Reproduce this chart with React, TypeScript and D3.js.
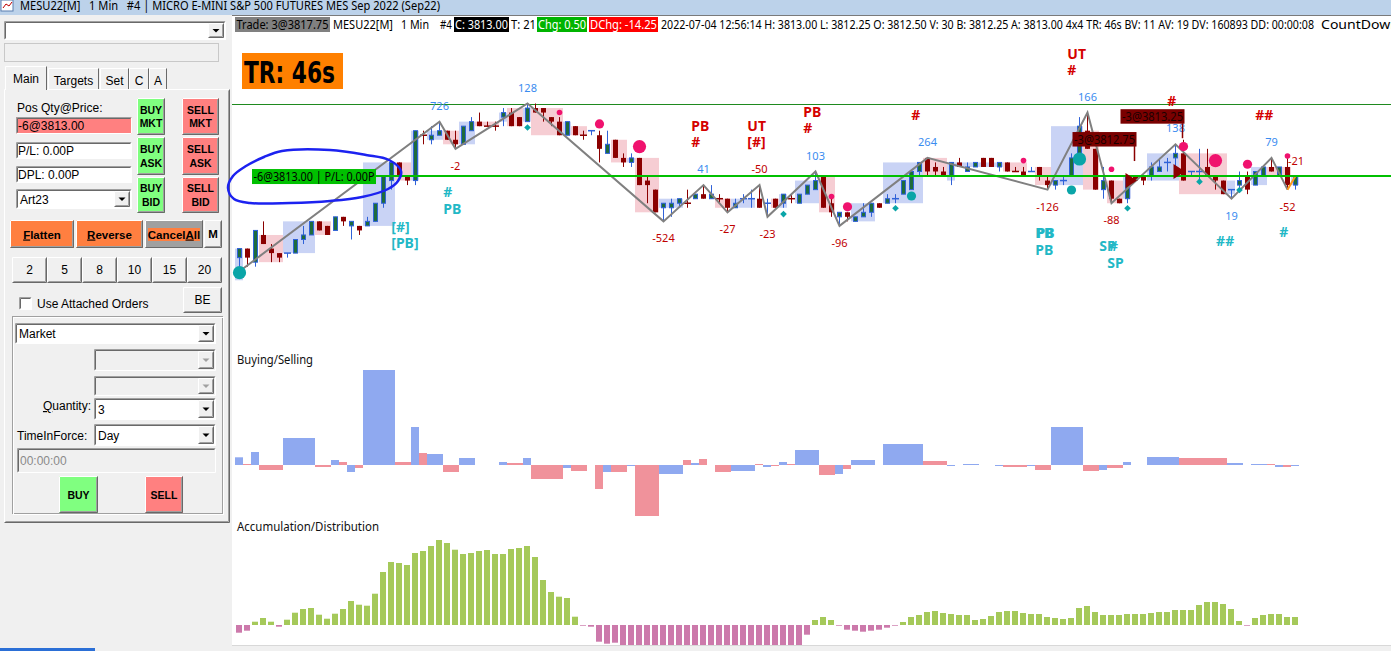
import React from "react";
import * as d3 from "d3";

// one-minute bars, MESU22
const open = [
  3808.5, 3809, 3808.25, 3809.75, 3809, 3808.75, 3808.75, 3808.75, 3809.5, 3809.75,
  3810.5, 3810.25, 3810, 3810.75, 3810.25, 3810.25, 3810.25, 3810.5, 3811.5, 3812.75,
  3813.75, 3813, 3812.75, 3815.25, 3815, 3815.25, 3815.5, 3815, 3814.75, 3815.5,
  3816, 3815.75, 3815.75, 3816.25, 3816.5, 3816.25, 3816, 3816.75, 3816.75, 3816.25,
  3816, 3815.25, 3815.75, 3815.25, 3815.5, 3815.25, 3814.25, 3815, 3814, 3813.75,
  3814, 3812.75, 3812.25, 3811.25, 3811.25, 3811.5, 3811.5, 3811.75, 3812, 3811.75,
  3811.75, 3811.75, 3811.25, 3811.75, 3811.75, 3811.75, 3811.5, 3811.75, 3811.5, 3811.75,
  3811.5, 3812, 3812.25, 3813, 3811.5, 3810.75, 3811, 3810.5, 3810.75, 3811,
  3811.5, 3811.5, 3811.75, 3812, 3812.25, 3813.25, 3814, 3813.5, 3813.25, 3813,
  3813.75, 3813.25, 3813.5, 3814, 3814, 3813.5, 3813.75, 3813.25, 3813.25, 3813.25,
  3813.5, 3812.75, 3812.5, 3812.75, 3813, 3814.25, 3815.5, 3814.5, 3812.25, 3812.75,
  3811.75, 3811.75, 3813, 3813, 3813, 3813.25, 3813.75, 3814, 3814.25, 3813.25,
  3813.25, 3813.5, 3813, 3812.75, 3812.25, 3812.5, 3813, 3812.5, 3813, 3813.5,
  3813, 3813.5, 3812.5,
];
const high = [
  3809, 3809, 3810, 3810.5, 3809.25, 3808.75, 3808.75, 3809.5, 3810.25, 3810.5,
  3810.5, 3810.25, 3810.75, 3810.75, 3810.5, 3810.25, 3810.75, 3811.5, 3813, 3813.75,
  3813.75, 3813, 3815.5, 3815.5, 3815.75, 3816, 3815.5, 3815.5, 3815.75, 3816.25,
  3816.5, 3816, 3816, 3816.75, 3816.75, 3816.25, 3817, 3817, 3816.75, 3816.25,
  3816.25, 3816, 3815.75, 3815.5, 3815.5, 3815.5, 3815.5, 3815, 3814.25, 3814.25,
  3814, 3813, 3812.25, 3811.5, 3811.75, 3811.75, 3812.25, 3812, 3812.5, 3812.5,
  3812, 3811.75, 3811.75, 3812, 3812.25, 3812.5, 3811.75, 3811.75, 3812, 3812,
  3812, 3812.5, 3813.25, 3813, 3812, 3811, 3811, 3810.75, 3811.5, 3811.5,
  3811.5, 3812, 3812, 3812.75, 3813.25, 3813.75, 3814, 3813.75, 3813.5, 3813.75,
  3814, 3813.75, 3813.75, 3814, 3814, 3813.75, 3813.75, 3813.5, 3813.5, 3813.5,
  3813.5, 3813, 3812.75, 3813, 3814.25, 3816.25, 3816.5, 3814.5, 3813.5, 3812.75,
  3811.75, 3813, 3813, 3813, 3813.75, 3814, 3814, 3814.75, 3815, 3813.25,
  3814.5, 3814.5, 3813, 3812.75, 3812.25, 3813.25, 3813.25, 3813.25, 3813.5, 3814,
  3813.5, 3814, 3813,
];
const low = [
  3807.75, 3808, 3808, 3809.25, 3808.25, 3808.25, 3808.5, 3808.75, 3809.25, 3809.75,
  3810, 3809.75, 3810, 3810.25, 3809.5, 3809.75, 3810.25, 3810.5, 3811.25, 3812.25,
  3813, 3812.5, 3812.5, 3814.75, 3814.75, 3815.25, 3815, 3814.5, 3814.75, 3815.5,
  3815.75, 3815.75, 3815.5, 3815.75, 3815.75, 3815.75, 3816, 3816.5, 3816, 3815.75,
  3815.25, 3815.25, 3815.25, 3815, 3815.25, 3813.75, 3814.25, 3814, 3813.5, 3813.5,
  3812.5, 3811.5, 3811, 3810.5, 3810.75, 3811.25, 3811.25, 3811.75, 3811.75, 3811.75,
  3811.5, 3811, 3811.25, 3811.5, 3811.25, 3811.25, 3810.75, 3811.25, 3811.25, 3811.5,
  3811.5, 3812, 3812.25, 3811.25, 3810.75, 3810.25, 3810.5, 3810.5, 3810.75, 3810.75,
  3811.25, 3811.5, 3811.5, 3812, 3812.25, 3813, 3813, 3813, 3813, 3812.5,
  3813.5, 3813.25, 3813.5, 3813.5, 3813.5, 3813.25, 3813.25, 3813.25, 3813, 3813.25,
  3812.75, 3812.25, 3812.25, 3812.5, 3813, 3814.25, 3814.5, 3812.25, 3811.75, 3811.5,
  3811.5, 3811.5, 3812.75, 3812.5, 3812.75, 3813.25, 3813.25, 3813.25, 3812.75, 3813,
  3812.75, 3813, 3812.25, 3812, 3811.75, 3812.25, 3812, 3812.5, 3813, 3813.25,
  3813, 3812.25, 3812.25,
];
const close = [
  3809, 3808.5, 3810, 3809.25, 3808.75, 3808.5, 3808.75, 3809.5, 3809.75, 3810.5,
  3810, 3809.75, 3810.75, 3810.5, 3810.5, 3810, 3810.5, 3811.5, 3813, 3813.75,
  3813, 3812.75, 3815.5, 3815.25, 3815.25, 3815.5, 3815, 3814.75, 3815.75, 3816,
  3815.75, 3815.75, 3815.75, 3816.5, 3815.75, 3815.75, 3816.75, 3816.5, 3816.5, 3816,
  3815.25, 3816, 3815.25, 3815.25, 3815.5, 3814.5, 3814.75, 3814, 3813.75, 3814,
  3812.5, 3812.5, 3811, 3811.5, 3811.5, 3811.75, 3811.5, 3812, 3811.75, 3812,
  3811.75, 3811.25, 3811.5, 3811.75, 3811.75, 3811.25, 3811.5, 3811.25, 3812, 3811.75,
  3812, 3812.5, 3812.75, 3811.25, 3811, 3811, 3810.75, 3810.75, 3811, 3811.5,
  3811.25, 3811.75, 3811.75, 3812.75, 3813.25, 3813.75, 3813.25, 3813.25, 3813, 3813.75,
  3813.5, 3813.5, 3813.75, 3813.5, 3813.5, 3813.75, 3813.25, 3813.25, 3813, 3813.25,
  3813, 3812.5, 3812.75, 3812.75, 3814, 3815.75, 3814.5, 3812.25, 3812.75, 3811.75,
  3811.5, 3813, 3812.75, 3812.75, 3813.5, 3813.5, 3813.75, 3814.25, 3812.75, 3813.25,
  3813.25, 3813, 3812.75, 3812, 3812.25, 3812.75, 3812.25, 3813.25, 3813.5, 3813.25,
  3813.5, 3812.5, 3813,
];

// zigzag swings (first pivot is a low, then alternating)
const pivotBars = [0, 25, 27, 36, 53, 58, 61, 65, 66, 72, 75, 86, 101, 106, 109, 117, 124, 129, 131];
const pivotLabels = [null, 726, -2, 128, -524, 41, -27, -50, -23, 103, -96, 264, -126, 166, -88, 138, 19, 79, -52];
const lastLegLabel = -21;

// congestion boxes
const zoneFrom = [0, 3, 6, 10, 16, 20, 22, 24, 26, 28, 30, 33, 34, 36, 37, 41, 42, 47, 49, 50, 53, 60, 62, 67, 68, 70, 73, 77, 81, 86, 89, 90, 96, 100, 102, 106, 109, 111, 114, 118, 124, 127, 129, 132];
const zoneTo = [0, 5, 9, 11, 19, 21, 22, 25, 27, 29, 32, 33, 35, 36, 40, 41, 43, 48, 49, 52, 55, 61, 64, 67, 68, 72, 74, 79, 85, 88, 89, 95, 98, 101, 105, 107, 110, 111, 117, 123, 124, 128, 131, 132];
const zoneTop = [3809, 3809.75, 3810.5, 3810.5, 3813.75, 3813.75, 3815.5, 3815.5, 3815.5, 3816, 3816, 3816.5, 3816.75, 3816.75, 3816.75, 3816, 3815.75, 3815, 3814, 3814, 3811.75, 3811.75, 3811.75, 3811.75, 3812, 3812.75, 3813, 3811.5, 3813.75, 3814, 3813.75, 3813.75, 3813.75, 3813.5, 3815.75, 3815.5, 3812.75, 3813, 3814.25, 3814.25, 3812.75, 3813.5, 3813.5, 3813];
const zoneBottom = [3807.25, 3808.25, 3808.75, 3809.75, 3810.25, 3812.75, 3812.75, 3815, 3814.75, 3814.75, 3815.75, 3816, 3815.75, 3816, 3815.25, 3815.25, 3815.25, 3813.75, 3813.75, 3811, 3811.25, 3811.25, 3811.25, 3811.25, 3811.25, 3811.5, 3811, 3810.5, 3811.5, 3813, 3812.75, 3813.5, 3813.25, 3812.5, 3812.5, 3812.25, 3811.5, 3811.75, 3812.75, 3812, 3812, 3812.5, 3813, 3812.5];
const zoneSide = "BPBPBPBBPBPBPBPBPPBPBPBPBBPBBPBBPPBPPBBPBBPB";

// signal dots
const pinkBars = [40, 45, 50, 74, 76, 98, 109, 118, 122, 126, 131];
const pinkPrices = [3816.5, 3815.875, 3814.625, 3811.875, 3811.3, 3813.85, 3813.375, 3814.625, 3813.85, 3813.65, 3814.1];
const pinkSizes = "smlsmssmlms";
const tealBars = [0, 36, 68, 82, 84, 104, 105, 111, 120, 125];
const tealPrices = [3807.67, 3815.68, 3810.9, 3811.22, 3811.9, 3812.23, 3813.94, 3811.22, 3812.69, 3812.23];
const tealSizes = "lsssmmlsss";

// pattern tags
const tagBars = [57, 57, 64, 64, 71, 71, 84.5, 104, 104, 116.5, 127.5, 26, 26, 19.5, 19.5, 100, 100.15, 100, 108, 109.2, 109, 122.6, 130.5];
const tagPrices = [3815.48, 3814.6, 3815.48, 3814.6, 3816.25, 3815.37, 3816.09, 3819.45, 3818.57, 3816.86, 3816.09, 3811.84, 3810.9, 3809.93, 3809.03, 3809.6, 3809.6, 3808.64, 3808.86, 3808.86, 3807.93, 3809.14, 3809.64];
const tagTexts = ["PB", "#", "UT", "[#]", "PB", "#", "#", "UT", "#", "#", "##", "#", "PB", "[#]", "[PB]", "PB", "PB", "PB", "SP", "#", "SP", "##", "#"];
const tagSides = "RRRRRRRRRRRTTTTTTTTTTTT";

// fills
const fillBars = [112, 118];
const fillPrices = [3812.75, 3813.25];
const fillQty = [-3, -3];
const fillLabelPrices = [3815.04, 3816.3];

const posQty = -6;
const posPrice = 3813.0;
const levelPrice = 3817.0;

// Buying/Selling
const buySell = [
  7.7, 1, 13, -5, -5, -5, 27, 27, 27, 27,
  -2, -2, 5, 3, -7, -3, 95, 95, 95, 95,
  3, 3, 38, 12, 11, 11, -7, -7, 7, 7,
  0, 0, 0, 3, 2, 2, 7, -14, -14, -14,
  -14, -3, -6, -6, 0, -24, -7, -7, -7, -1,
  -51, -51, -51, -9, -9, -9, 5, 2, 6, 0,
  -7, -7, -6, -6, -6, 1, -2, -1, 3, 1,
  15, 15, 15, -10, -10, -9, -4, 5, 5, 5,
  0, 21, 21, 21, 21, 21, 4, 4, 4, -1,
  0, 1, 1, 0, 0, -1, -2, -2, -2, -1,
  -5, -5, 38, 38, 38, 38, -6, -6, -5, -3,
  -3, 3, 0, 0, 8, 8, 8, 8, 7, 7,
  7, 7, 7, 7, 2, 2, 0, 1, 1, 1,
  -2, -2, -1,
];
const buySellSide =
  "BSBSSSBBBB" + "SSBSBSBBBB" + "SSBSBBSSBB" + "BBBBSSBSSS" + "SBSSSSBSSB" +
  "SSSBBBSBSS" + "SSBBBSBSBS" + "BBBSSBSBBB" + "BBBBBBSSSB" + "BBBBBBSSSB" +
  "SSBBBBSSBS" + "SBBBBBBBSS" + "SSSSBBBBBS" + "BSB";

// Accumulation/Distribution
const accDist = [
  -7.7, -5.7, 3.3, 7, 3.3, -1.7, 5.3, 12.3, 16, 17,
  10.3, 6.3, 11.3, 16, 24, 20.3, 19.3, 31.3, 53, 63,
  62, 60, 72, 74, 79, 85, 82, 75.3, 71, 72,
  74, 75, 71, 71, 76, 77, 79, 68, 45, 33,
  28.3, 27, 8.3, -0.7, -1.7, -16.7, -18.7, -17.7, -24, -24,
  -24, -24, -24, -24, -24, -24, -24, -24, -24, -24,
  -24, -24, -24, -24, -24, -24, -24, -24, -24, -24,
  -24, -9.7, 5, 8, 5, -0.7, -4.7, -5.7, -6.7, -5.7,
  -4.7, -2.7, -0.7, 3, 8, 10, 13, 14, 12, 11,
  10, 10, 5, 6, 9, 13, 14, 14, 12, 11,
  11, 8, 7, 6, 7, 17, 19, 13, 10, 10,
  10, 11, 11, 11, 12, 13, 13, 15, 15, 15,
  20, 23, 23, 21, 16, 4, -0.7, 7, 10, 11,
  11, 8, 8,
];

const statusRest =
  "2022-07-04 12:56:14 H: 3813.00 L: 3812.25 O: 3812.50 V: 30 B: 3812.25 A: 3813.00 4x4 TR: 46s BV: 11 AV: 19 DV: 160893 DD: 00:00:08";

const UI = "'Liberation Sans', Arial, sans-serif";
const CH = "'Noto Sans', 'Open Sans', sans-serif";

const x = d3.scaleLinear().domain([0, 132]).range([239.3, 1295.3]);
const xi = (i: number) => Math.round(x(i));
const y = d3.scaleLinear().domain([3808, 3817]).range([266.7, 103.5]);
const yBS = d3.scaleLinear().domain([0, 95]).range([465, 370]);
const yAD = d3.scaleLinear().domain([0, 85]).range([625, 540]);

const UP_FILL = "#1e6b3c";
const UP_LINE = "#3062d8";
const DOWN = "#8b0000";

function Raised({ x, y, w, h, fill = "#f0f0f0" }: any) {
  return (
    <g>
      <rect x={x} y={y} width={w} height={h} fill={fill} />
      <path d={`M${x + 0.5},${y + h - 0.5}V${y + 0.5}H${x + w - 0.5}`} stroke="#fff" fill="none" />
      <path d={`M${x + 0.5},${y + h - 0.5}H${x + w - 0.5}V${y + 0.5}`} stroke="#696969" fill="none" />
      <path d={`M${x + 1.5},${y + h - 1.5}H${x + w - 1.5}V${y + 1.5}`} stroke="#a0a0a0" fill="none" />
    </g>
  );
}

function Sunken({ x, y, w, h, fill = "#fff" }: any) {
  return (
    <g>
      <rect x={x} y={y} width={w} height={h} fill={fill} />
      <path d={`M${x + 0.5},${y + h - 0.5}V${y + 0.5}H${x + w - 0.5}`} stroke="#a0a0a0" fill="none" />
      <path d={`M${x + 1.5},${y + h - 1.5}V${y + 1.5}H${x + w - 1.5}`} stroke="#696969" fill="none" />
      <path d={`M${x + 0.5},${y + h - 0.5}H${x + w - 0.5}V${y + 0.5}`} stroke="#fff" fill="none" />
    </g>
  );
}

function Combo({ x, y, w, h, fill = "#fff", disabled = false, text = "" }: any) {
  const bx = x + w - 18;
  return (
    <g>
      <Sunken x={x} y={y} w={w} h={h} fill={fill} />
      <Raised x={bx} y={y + 2} w={16} h={h - 4} />
      <path
        d={`M${bx + 4.5},${y + h / 2 - 1.5}h7l-3.5,3.5z`}
        fill={disabled ? "#a0a0a0" : "#000"}
      />
      {text && (
        <text x={x + 4} y={y + h / 2 + 4.5} fontFamily={UI} fontSize={12}>
          {text}
        </text>
      )}
    </g>
  );
}

function Btn({ x, y, w, h, fill, lines, bold = true, size = 10.5 }: any) {
  const n = lines.length;
  return (
    <g>
      <Raised x={x} y={y} w={w} h={h} fill={fill} />
      {lines.map((t: any, k: number) => (
        <text
          key={k}
          x={x + w / 2}
          y={y + h / 2 + 4 + (k - (n - 1) / 2) * 13.5}
          textAnchor="middle"
          fontFamily={UI}
          fontSize={size}
          fontWeight={bold ? "bold" : "normal"}
        >
          {t}
        </text>
      ))}
    </g>
  );
}

function LeftPanel() {
  const tabs = [
    { t: "Main", x: 5, w: 42 },
    { t: "Targets", x: 48, w: 51 },
    { t: "Set", x: 100, w: 29 },
    { t: "C", x: 129, w: 20 },
    { t: "A", x: 149, w: 18 },
  ];
  const nums = ["2", "5", "8", "10", "15", "20"];
  return (
    <g>
      <rect x={0} y={15} width={232} height={636} fill="#f0f0f0" />
      <Combo x={4} y={21} w={222} h={19} />
      <rect x={4.5} y={43.5} width={214} height={18} fill="#f0f0f0" stroke="#c8c8c8" />
      {/* tab page */}
      <path d="M4.5,522.5V89.5H229.5" stroke="#fff" fill="none" />
      <path d="M4.5,522.5H229.5V89.5" stroke="#696969" fill="none" />
      <path d="M5.5,521.5H228.5V90.5" stroke="#a0a0a0" fill="none" />
      {tabs.map((tb, k) => {
        const sel = k === 0;
        const ty = sel ? 66 : 68;
        const bottom = sel ? 90 : 89;
        return (
          <g key={tb.t}>
            <rect x={tb.x} y={ty} width={tb.w} height={bottom - ty} fill="#f0f0f0" />
            <path d={`M${tb.x + 0.5},${bottom}V${ty + 0.5}H${tb.x + tb.w - 0.5}`} stroke="#fff" fill="none" />
            <path d={`M${tb.x + tb.w - 0.5},${ty + 0.5}V${bottom}`} stroke="#696969" fill="none" />
            <text
              x={tb.x + tb.w / 2}
              y={sel ? 83 : 85}
              textAnchor="middle"
              fontFamily={UI}
              fontSize={12}
            >
              {tb.t}
            </text>
          </g>
        );
      })}
      <text x={17} y={112} fontFamily={UI} fontSize={12}>
        Pos Qty@Price:
      </text>
      <Sunken x={16} y={117} w={116} h={17} fill="#ff8080" />
      <text x={18} y={130} fontFamily={UI} fontSize={12}>
        {`${posQty}@${posPrice.toFixed(2)}`}
      </text>
      <Sunken x={16} y={142} w={116} h={17} />
      <text x={18} y={155} fontFamily={UI} fontSize={12}>
        P/L: 0.00P
      </text>
      <Sunken x={16} y={166} w={116} h={17} />
      <text x={18} y={179} fontFamily={UI} fontSize={12}>
        DPL: 0.00P
      </text>
      <Combo x={16} y={189} w={116} h={20} text="Art23" />
      <Btn x={137} y={98} w={28} h={37} fill="#80ff80" lines={["BUY", "MKT"]} />
      <Btn x={182} y={98} w={37} h={37} fill="#ff8080" lines={["SELL", "MKT"]} />
      <Btn x={137} y={137} w={28} h={38} fill="#80ff80" lines={["BUY", "ASK"]} />
      <Btn x={182} y={137} w={37} h={38} fill="#ff8080" lines={["SELL", "ASK"]} />
      <Btn x={137} y={177} w={28} h={36} fill="#80ff80" lines={["BUY", "BID"]} />
      <Btn x={182} y={177} w={37} h={36} fill="#ff8080" lines={["SELL", "BID"]} />
      {/* action row */}
      <Raised x={10} y={220} w={64} h={28} fill="#ff7f40" />
      <text x={42} y={238.5} textAnchor="middle" fontFamily={UI} fontSize={11.5} fontWeight="bold">
        <tspan style={{ textDecoration: "underline" }}>F</tspan>latten
      </text>
      <Raised x={76} y={220} w={67} h={28} fill="#ff7f40" />
      <text x={109.5} y={238.5} textAnchor="middle" fontFamily={UI} fontSize={11.5} fontWeight="bold">
        <tspan style={{ textDecoration: "underline" }}>R</tspan>everse
      </text>
      <Raised x={145} y={220} w={58} h={28} fill="#a0a0a0" />
      <rect x={148} y={228} width={52} height={13} fill="#ff7f40" />
      <text x={174} y={238.5} textAnchor="middle" fontFamily={UI} fontSize={11.5} fontWeight="bold">
        Cancel<tspan style={{ textDecoration: "underline" }}>A</tspan>ll
      </text>
      <Btn x={204} y={220} w={18} h={28} fill="#f0f0f0" lines={["M"]} size={11.5} />
      {nums.map((t, k) => (
        <Btn key={t} x={12 + 35 * k} y={257} w={35} h={26} fill="#f0f0f0" lines={[t]} bold={false} size={12} />
      ))}
      <Sunken x={19} y={297} w={13} h={13} />
      <text x={37} y={308} fontFamily={UI} fontSize={12}>
        Use Attached Orders
      </text>
      <Btn x={183} y={287} w={39} h={26} fill="#f0f0f0" lines={["BE"]} bold={false} size={12} />
      {/* order entry group */}
      <rect x={12.5} y={316.5} width={210} height={197} fill="none" stroke="#a0a0a0" />
      <rect x={13.5} y={317.5} width={210} height={197} fill="none" stroke="#fff" />
      <Combo x={15} y={323} w={201} h={21} text="Market" />
      <Combo x={94} y={349} w={122} h={22} fill="#f0f0f0" disabled />
      <Combo x={94} y={376} w={122} h={20} fill="#f0f0f0" disabled />
      <text x={91} y={410} textAnchor="end" fontFamily={UI} fontSize={12}>
        <tspan style={{ textDecoration: "underline" }}>Q</tspan>uantity:
      </text>
      <Combo x={94} y={398} w={122} h={22} text="3" />
      <text x={17} y={440} fontFamily={UI} fontSize={12}>
        TimeInForce:
      </text>
      <Combo x={94} y={424} w={122} h={22} text="Day" />
      <Sunken x={17} y={448} w={199} h={25} fill="#f0f0f0" />
      <text x={20} y={465} fontFamily={UI} fontSize={12} fill="#8a8a8a">
        00:00:00
      </text>
      <Btn x={59} y={476} w={39} h={37} fill="#80ff80" lines={["BUY"]} />
      <Btn x={145} y={476} w={38} h={37} fill="#ff8080" lines={["SELL"]} />
    </g>
  );
}

function StatusLine() {
  const base = 28.5;
  return (
    <g fontFamily={CH} fontSize={12}>
      <rect x={235} y={17} width={95} height={15} fill="#808080" />
      <text x={236.5} y={base} textLength={92} lengthAdjust="spacingAndGlyphs">Trade: 3@3817.75</text>
      <text x={333} y={base} textLength={60} lengthAdjust="spacingAndGlyphs">MESU22[M]</text>
      <text x={401} y={base} textLength={28} lengthAdjust="spacingAndGlyphs">1 Min</text>
      <text x={440} y={base} textLength={12} lengthAdjust="spacingAndGlyphs">#4</text>
      <rect x={454} y={17} width={55} height={15} fill="#000" />
      <text x={455} y={base} fill="#fff" textLength={53} lengthAdjust="spacingAndGlyphs">C: 3813.00</text>
      <text x={511} y={base} textLength={25} lengthAdjust="spacingAndGlyphs">T: 21</text>
      <rect x={537} y={17} width={50} height={15} fill="#00b400" />
      <text x={538} y={base} fill="#fff" textLength={48} lengthAdjust="spacingAndGlyphs">Chg: 0.50</text>
      <rect x={589} y={17} width={69} height={15} fill="#ff0000" />
      <text x={590} y={base} fill="#fff" textLength={67} lengthAdjust="spacingAndGlyphs">DChg: -14.25</text>
      <text x={661} y={base} textLength={653} lengthAdjust="spacingAndGlyphs">{statusRest}</text>
      <text x={1321} y={base} textLength={78} lengthAdjust="spacingAndGlyphs">CountDown</text>
    </g>
  );
}

function PriceChart() {
  const zigPts: [number, number][] = pivotBars.map((b, k) => [
    xi(b) + 0.5,
    y(k % 2 === 0 ? low[b] : high[b]),
  ]);
  const line = d3.line();
  const lastBar = open.length - 1;
  const lastPivot = pivotBars[pivotBars.length - 1];
  const rOf: any = { s: 2.8, m: 4.6, l: 6.6 };

  // colours for dojis follow the last move
  const candleUp: boolean[] = [];
  open.forEach((o, i) => {
    const c = close[i];
    if (c > o) candleUp.push(true);
    else if (c < o) candleUp.push(false);
    else if (i === 0) candleUp.push(true);
    else if (c > close[i - 1]) candleUp.push(true);
    else if (c < close[i - 1]) candleUp.push(false);
    else candleUp.push(candleUp[i - 1]);
  });

  const ellipse = d3.line().curve(d3.curveCatmullRomClosed)([
    [282, 151], [330, 150], [366, 155], [389, 160], [401, 171], [398, 181],
    [388, 189], [362, 197], [330, 201], [290, 203], [250, 203], [234, 199],
    [228, 188], [233, 176], [246, 166], [264, 157],
  ]);

  return (
    <g>
      {/* congestion boxes */}
      {zoneFrom.map((a, k) => (
        <rect
          key={k}
          x={xi(a) - 4}
          width={xi(zoneTo[k]) - xi(a) + 8}
          y={y(zoneTop[k])}
          height={y(zoneBottom[k]) - y(zoneTop[k])}
          fill={zoneSide[k] === "B" ? "#c9d3f5" : "#f6cdd3"}
        />
      ))}
      <line x1={232} x2={1391} y1={Math.round(y(levelPrice)) + 0.5} y2={Math.round(y(levelPrice)) + 0.5} stroke="#1f8a1f" />
      {/* candles */}
      {open.map((o, i) => {
        const c = close[i];
        const cx = xi(i) + 0.5;
        const up = candleUp[i];
        const col = up ? UP_LINE : DOWN;
        const top = Math.min(y(o), y(c));
        const bot = Math.max(y(o), y(c));
        return (
          <g key={i}>
            <line x1={cx} x2={cx} y1={y(high[i])} y2={y(low[i])} stroke={col} />
            {o === c ? (
              <line x1={cx - 3.5} x2={cx + 3.5} y1={y(o)} y2={y(o)} stroke={col} strokeWidth={1.5} />
            ) : up ? (
              <rect x={cx - 2} y={top} width={4} height={bot - top} fill={UP_FILL} stroke={UP_LINE} />
            ) : (
              <rect x={cx - 2.5} y={top} width={5} height={bot - top} fill={DOWN} />
            )}
          </g>
        );
      })}
      {/* zigzag */}
      <path d={line(zigPts) || ""} fill="none" stroke="#808080" strokeWidth={2} />
      <line
        x1={xi(lastPivot) + 0.5}
        y1={y(low[lastPivot])}
        x2={xi(lastBar) + 0.5}
        y2={y(close[lastBar])}
        stroke="#ff9a1a"
        strokeWidth={2}
      />
      {pivotBars.map((b, k) => {
        const v = pivotLabels[k];
        if (v === null) return null;
        const isHigh = k % 2 === 1;
        const py = y(isHigh ? high[b] : low[b]);
        return (
          <text
            key={k}
            x={xi(b) + 0.5}
            y={isHigh ? py - 12 : py + 21}
            textAnchor="middle"
            fontFamily={CH}
            fontSize={11}
            fill={v >= 0 ? "#3a8cf0" : "#c00000"}
          >
            {v}
          </text>
        );
      })}
      <text
        x={xi(lastBar) + 1}
        y={y(close[lastBar]) - 11}
        textAnchor="middle"
        fontFamily={CH}
        fontSize={11}
        fill={lastLegLabel >= 0 ? "#3a8cf0" : "#c00000"}
      >
        {lastLegLabel}
      </text>
      {/* position line */}
      <line x1={376} x2={1391} y1={y(posPrice)} y2={y(posPrice)} stroke="#00c000" strokeWidth={2} />
      <rect x={252} y={y(posPrice) - 7} width={124} height={15} fill="#00c000" />
      <text x={253.5} y={y(posPrice) + 5} fontFamily={CH} fontSize={12} textLength={121} lengthAdjust="spacingAndGlyphs">
        {`${posQty}@${posPrice.toFixed(2)} | P/L: 0.00P`}
      </text>
      {/* pattern tags */}
      {tagBars.map((b, k) => (
        <text
          key={k}
          x={x(b) - 4}
          y={y(tagPrices[k])}
          fontFamily={CH}
          fontSize={14}
          fontWeight="bold"
          fill={tagSides[k] === "R" ? "#d40000" : "#22b8c6"}
        >
          {tagTexts[k]}
        </text>
      ))}
      {/* dots */}
      {pinkBars.map((b, k) => (
        <circle key={k} cx={xi(b) + 0.5} cy={y(pinkPrices[k])} r={rOf[pinkSizes[k]]} fill="#f0126e" />
      ))}
      {tealBars.map((b, k) => {
        const cx = xi(b) + 0.5;
        const cy = y(tealPrices[k]);
        const r = rOf[tealSizes[k]];
        return tealSizes[k] === "s" ? (
          <path key={k} d={`M${cx},${cy - 3.3}L${cx + 3.3},${cy}L${cx},${cy + 3.3}L${cx - 3.3},${cy}Z`} fill="#0aa5a8" />
        ) : (
          <circle key={k} cx={cx} cy={cy} r={r} fill="#0aa5a8" />
        );
      })}
      {/* fills */}
      {fillBars.map((b, k) => {
        const cx = xi(b) + 0.5;
        const fy = y(fillPrices[k]);
        const ly = y(fillLabelPrices[k]);
        return (
          <g key={k}>
            <path d={`M${cx - 10},${fy - 7.5}L${cx + 1.5},${fy}L${cx - 10},${fy + 7.5}Z`} fill={DOWN} />
            <line x1={cx - 1} x2={cx - 1} y1={ly + 7} y2={ly + 22} stroke={DOWN} strokeWidth={1.5} />
            <rect x={cx - 63} y={ly - 7} width={64} height={14.5} fill="#7a0000" />
            <text x={cx - 61.5} y={ly + 5} fontFamily={CH} fontSize={13} fill="#1a0000" textLength={61} lengthAdjust="spacingAndGlyphs">
              {`${fillQty[k]}@${fillPrices[k].toFixed(2)}`}
            </text>
          </g>
        );
      })}
      <path d={ellipse || ""} fill="none" stroke="#1c22f0" strokeWidth={2.5} />
    </g>
  );
}

function LowerPanels() {
  return (
    <g>
      <text x={237} y={364} fontFamily={CH} fontSize={12} fill="#111" textLength={76} lengthAdjust="spacingAndGlyphs">
        Buying/Selling
      </text>
      {buySell.map((v, i) => (
        <rect
          key={i}
          x={xi(i) - 4}
          width={8}
          y={Math.min(yBS(v), yBS(0))}
          height={Math.abs(yBS(v) - yBS(0))}
          fill={buySellSide[i] === "B" ? "#8fa9f0" : "#f0929b"}
        />
      ))}
      <text x={237} y={531} fontFamily={CH} fontSize={12} fill="#111" textLength={142} lengthAdjust="spacingAndGlyphs">
        Accumulation/Distribution
      </text>
      <clipPath id="adClip">
        <rect x={232} y={535} width={1159} height={110} />
      </clipPath>
      <g clipPath="url(#adClip)">
        {accDist.map((v, i) => (
          <rect
            key={i}
            x={xi(i) - 3}
            width={6}
            y={Math.min(yAD(v), yAD(0))}
            height={Math.abs(yAD(v) - yAD(0))}
            fill={v >= 0 ? "#a5c95a" : "#cc79ab"}
          />
        ))}
      </g>
    </g>
  );
}

export default function App() {
  return (
    <svg
      width={1391}
      height={651}
      viewBox="0 0 1391 651"
      style={{ position: "absolute", left: 0, top: 0, display: "block" }}
    >
      <rect x={0} y={0} width={1391} height={651} fill="#fff" />
      {/* window title */}
      <rect x={0} y={0} width={1391} height={15} fill="#bcd2ea" />
      <rect x={1} y={0} width={12} height={11} fill="#fff" stroke="#5a7fb0" />
      <path d="M3,8L6,4L9,6L12,2" stroke="#c00000" fill="none" />
      <text x={20} y={10} fontFamily={CH} fontSize={12} textLength={420} lengthAdjust="spacingAndGlyphs" style={{ whiteSpace: "pre" }}>
        {"MESU22[M]   1 Min   #4 | MICRO E-MINI S&P 500 FUTURES MES Sep 2022 (Sep22)"}
      </text>
      <LeftPanel />
      <rect x={232} y={15} width={1159} height={630} fill="#fff" />
      <line x1={232} x2={1391} y1={15.5} y2={15.5} stroke="#7a7a7a" />
      <StatusLine />
      <rect x={242} y={53} width={101} height={36} fill="#ff8000" />
      <text
        x={244}
        y={83}
        fontFamily="'Liberation Sans Narrow', 'DejaVu Sans Condensed', 'Liberation Sans', sans-serif"
        fontSize={30}
        fontWeight="bold"
        textLength={91}
        lengthAdjust="spacingAndGlyphs"
      >
        TR: 46s
      </text>
      <PriceChart />
      <LowerPanels />
      {/* bottom strip */}
      <rect x={0} y={645} width={1391} height={6} fill="#f0f0f0" />
      <line x1={232} x2={1391} y1={645.5} y2={645.5} stroke="#d8d8d8" />
      <rect x={0} y={648} width={95} height={3} fill="#2b6fd6" />
    </svg>
  );
}
